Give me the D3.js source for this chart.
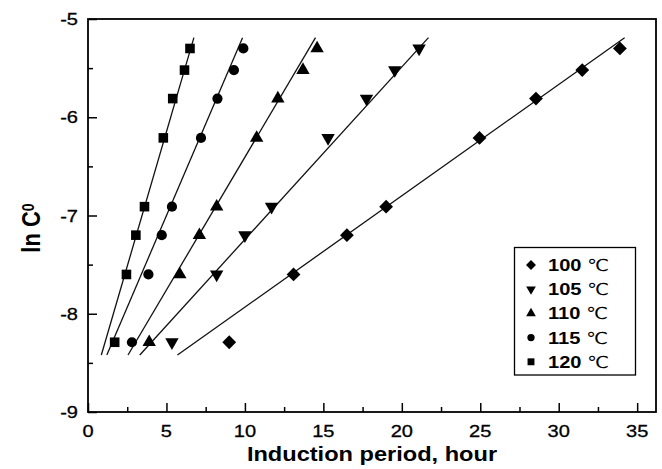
<!DOCTYPE html>
<html>
<head>
<meta charset="utf-8">
<script src="https://cdn.jsdelivr.net/npm/d3@7"></script>
<style>
  body { margin: 0; background: #fff; }
  svg { display: block; font-family: "Liberation Sans", Arial, sans-serif; }
</style>
</head>
<body>
<svg id="chart"></svg>
<script>
// ===============================
// Data
// ===============================
const temps = ["100 ℃", "105 ℃", "110 ℃", "115 ℃", "120 ℃"];
const lnC0 = [-5.30, -5.52, -5.81, -6.21, -6.91, -7.20, -7.60, -8.29];

// induction period (hour) for each temperature, same order as lnC0
const period100 = [33.9, 31.5, 28.55, 24.95, 19.0, 16.5, 13.1, 9.0];
const period105 = [21.1, 19.55, 17.75, 15.3, 11.7, 10.0, 8.2, 5.35];
const period110 = [14.6, 13.7, 12.1, 10.75, 8.2, 7.1, 5.85, 3.9];
const period115 = [9.9, 9.3, 8.25, 7.2, 5.35, 4.7, 3.85, 2.8];
const period120 = [6.5, 6.15, 5.4, 4.8, 3.6, 3.05, 2.45, 1.7];

// linear fit lines: x at the bottom and top ends
const fitY = [-8.42, -5.19];
const fit100 = [5.7, 34.2];
const fit105 = [3.3, 21.7];
const fit110 = [2.55, 14.5];
const fit115 = [1.2, 9.85];
const fit120 = [0.85, 6.75];

const xTicks = [0, 5, 10, 15, 20, 25, 30, 35];
const yTicks = [-9, -8, -7, -6, -5];

const series = [
    { name: temps[0], x: period100, fit: fit100, shape: "diamond" },
    { name: temps[1], x: period105, fit: fit105, shape: "down" },
    { name: temps[2], x: period110, fit: fit110, shape: "up" },
    { name: temps[3], x: period115, fit: fit115, shape: "circle" },
    { name: temps[4], x: period120, fit: fit120, shape: "square" }
];

// ===============================
// Setup
// ===============================
const width = 662, height = 469,
      margin = { top: 19, right: 6, bottom: 57, left: 88 },
      stretch = 1.18;   // the original figure is a bit wider than tall

const svg = d3.select("#chart").attr("width", width).attr("height", height);

const x = d3.scaleLinear().domain([0, 36.2]).range([margin.left, width - margin.right]);
const y = d3.scaleLinear().domain([-9, -5]).range([height - margin.bottom, margin.top]);

// marker paths
function marker(shape, scale) {
    const s = scale || 1;
    if (shape === "circle") return d3.symbol(d3.symbolCircle, 82 * s * s)();
    if (shape === "square") return d3.symbol(d3.symbolSquare, 92 * s * s)();
    if (shape === "diamond") return d3.symbol(d3.symbolSquare, 95 * s * s)();
    return d3.symbol(d3.symbolTriangle, 78 * s * s)();
}
function rot(shape) {
    if (shape === "diamond") return " rotate(45)";
    if (shape === "down") return " rotate(180)";
    return "";
}

// ===============================
// Fit lines
// ===============================
series.forEach(s => {
    svg.append("line")
        .attr("x1", x(s.fit[0])).attr("y1", y(fitY[0]))
        .attr("x2", x(s.fit[1])).attr("y2", y(fitY[1]))
        .attr("stroke", "#111")
        .attr("stroke-width", 1.3);
});

// ===============================
// Points
// ===============================
series.forEach(s => {
    svg.append("g")
        .selectAll("path")
        .data(s.x)
        .enter()
        .append("path")
        .attr("d", marker(s.shape))
        .attr("transform", (d, i) => `translate(${x(d)},${y(lnC0[i])})${rot(s.shape)}`)
        .attr("fill", "#000");
});

// ===============================
// Axes (ticks pointing inward)
// ===============================
const xAxis = svg.append("g")
    .attr("transform", `translate(0,${height - margin.bottom})`)
    .call(d3.axisBottom(x).tickValues(d3.range(0, 36, 2.5)).tickSize(-5).tickFormat(""));
xAxis.selectAll(".tick line").filter(d => d % 5 === 0).attr("y2", -9);

const yAxis = svg.append("g")
    .attr("transform", `translate(${margin.left},0)`)
    .call(d3.axisLeft(y).tickValues(d3.range(-9, -4.9, 0.5)).tickSize(-5).tickFormat(""));
yAxis.selectAll(".tick line").filter(d => Number.isInteger(d)).attr("x2", 9);

[xAxis, yAxis].forEach(a => {
    a.select(".domain").remove();
    a.selectAll(".tick line").attr("stroke", "#000").attr("stroke-width", 1.5);
});

// frame
svg.append("rect")
    .attr("x", margin.left).attr("y", margin.top)
    .attr("width", width - margin.right - margin.left)
    .attr("height", height - margin.bottom - margin.top)
    .attr("fill", "none").attr("stroke", "#000").attr("stroke-width", 1.8);

// tick labels
svg.selectAll(".xlab")
    .data(xTicks)
    .enter()
    .append("text")
    .attr("transform", d => `translate(${x(d)},${height - margin.bottom + 25}) scale(${stretch},1)`)
    .attr("text-anchor", "middle")
    .attr("font-size", 17)
    .attr("stroke", "#000").attr("stroke-width", 0.3)
    .text(d => d);

svg.selectAll(".ylab")
    .data(yTicks)
    .enter()
    .append("text")
    .attr("transform", d => `translate(${margin.left - 10},${y(d) + 6}) scale(${stretch},1)`)
    .attr("text-anchor", "end")
    .attr("font-size", 17)
    .attr("stroke", "#000").attr("stroke-width", 0.3)
    .text(d => d);

// axis titles
svg.append("text")
    .attr("transform", `translate(372,461) scale(${stretch},1)`)
    .attr("text-anchor", "middle")
    .attr("font-size", 20)
    .attr("font-weight", "bold")
    .text("Induction period, hour");

const yt = svg.append("text")
    .attr("transform", `translate(40,228) scale(${stretch},1) rotate(-90)`)
    .attr("text-anchor", "middle")
    .attr("font-size", 22)
    .attr("font-weight", "bold");
yt.append("tspan").text("ln C");
yt.append("tspan").attr("font-size", 14).attr("dy", -5).text("0");

// ===============================
// Legend
// ===============================
const legend = svg.append("g");
legend.append("rect")
    .attr("x", 514.5).attr("y", 247.5)
    .attr("width", 121).attr("height", 127.5)
    .attr("fill", "#fff").attr("stroke", "#000").attr("stroke-width", 1.3);

series.forEach((s, i) => {
    const ly = 265 + i * 24.2;
    legend.append("path")
        .attr("d", marker(s.shape, 0.72))
        .attr("transform", `translate(531,${ly})${rot(s.shape)}`)
        .attr("fill", "#000");
    const t = legend.append("text")
        .attr("transform", `translate(548,${ly + 6}) scale(${stretch},1)`)
        .attr("font-size", 17)
        .attr("font-weight", "bold");
    t.append("tspan").text(s.name.split(" ")[0] + " ");
    t.append("tspan").attr("font-weight", "normal").attr("font-size", 16.5)
        .attr("font-family", "DejaVu Sans").text(s.name.split(" ")[1]);
});
</script>
</body>
</html>
